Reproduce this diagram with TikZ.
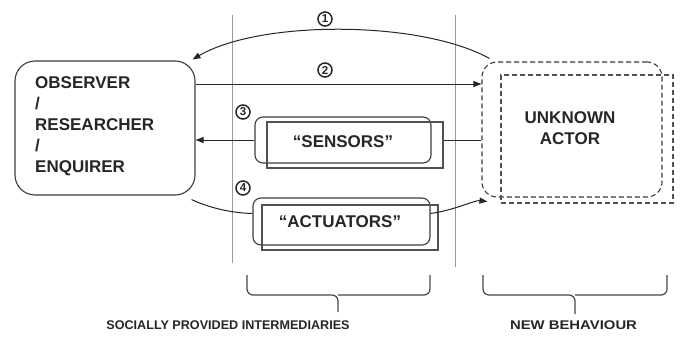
\documentclass[tikz,border=0pt]{standalone}
\usepackage{fontspec}
\setmainfont{Liberation Sans}
\usetikzlibrary{arrows.meta}
\definecolor{ink}{HTML}{262626}
\definecolor{rule}{HTML}{9A9A9A}
\tikzset{
  boxline/.style={draw=ink!90, line width=1.1pt},
  roundbox/.style={boxline, rounded corners=8pt, inner sep=0pt},
  squarebox/.style={draw=ink!80, line width=1.1pt, inner sep=0pt},
  dashbox/.style={draw=ink!90, line width=1.1pt, dash pattern=on 5pt off 3pt, inner sep=0pt},
  label/.style={text=ink, font=\bfseries\fontsize{17}{21}\selectfont, inner sep=0pt},
  caption/.style={text=ink, font=\bfseries\fontsize{12.6}{14}\selectfont, inner sep=0pt},
  num/.style={circle, draw=ink, line width=1.5pt, minimum size=14pt, inner sep=0pt,
              text=ink, font=\bfseries\fontsize{11.5}{11.5}\selectfont},
  conn/.style={draw=ink, line width=1pt},
  arr/.style={conn, -{Triangle[length=8pt,width=6pt]}},
  divider/.style={draw=rule, line width=0.8pt},
  bracket/.style={draw=ink!85, line width=1.2pt, rounded corners=6pt}
}
\begin{document}
\begin{tikzpicture}[x=1pt,y=-1pt]
\useasboundingbox[fill=white] (0,0) rectangle (680,337);

% column dividers
\draw[divider] (232,15) -- (232,263);
\draw[divider] (455,15) -- (455,267);

% observer
\node[boxline, rounded corners=20pt, minimum width=180pt, minimum height=134pt, inner sep=0pt] (obs) at (105,128) {};
\node[label, anchor=west, align=left] (obstext) at (35,126.5) {OBSERVER\\/\\RESEARCHER\\/\\ENQUIRER};

% unknown actor
\node[dashbox, rounded corners=15pt, minimum width=180pt, minimum height=135pt] (unk) at (572,129.5) {};
\node[dashbox, draw=ink!80, minimum width=172pt, minimum height=128pt] (unksq) at (587,139) {};
\node[label, align=center] (unktext) at (570,128) {UNKNOWN\\ACTOR};

% sensors
\node[roundbox, minimum width=176pt, minimum height=46pt] (sensr) at (343,140) {};
\node[squarebox, minimum width=176pt, minimum height=46pt] (senss) at (355,145) {};
\node[label] (senstext) at (343,142) {“SENSORS”};

% actuators
\node[roundbox, minimum width=177pt, minimum height=47pt] (actr) at (341.5,221.5) {};
\node[squarebox, minimum width=176pt, minimum height=45pt] (acts) at (350,227.5) {};
\node[label] (acttext) at (340,222) {“ACTUATORS”};

% numbered channels
\node[num] (n1) at (325,19) {1};
\node[num] (n2) at (325,70) {2};
\node[num] (n3) at (243,112) {3};
\node[num] (n4) at (243,188) {4};

% connectors
\draw[arr] ([shift={(8,-3)}]unk.north west) .. controls (420,20) and (260,20) .. ([shift={(-3,-1)}]obs.north east);
\draw[arr] ([yshift=44pt]obs.east) -- ([yshift=44pt]obs.east -| unk.west);
\draw[conn] (sensr.east -| senss.east) -- (sensr.east -| unk.west);
\draw[arr] (sensr.west) -- (sensr.west -| obs.east);
\draw[conn] ([shift={(-4,4)}]obs.south east) .. controls (205,206) and (228,213) .. ([yshift=8pt]actr.west);
\draw[arr] ([yshift=8pt]actr.east) .. controls (455,210) and (475,200) .. ([shift={(6,4)}]unk.south west);

% brackets
\draw[bracket] (247,275) -- (247,295) -- (338,295) -- (338,312);
\draw[bracket] (430,275) -- (430,295) -- (338,295);
\draw[bracket] (483,275) -- (483,295) -- (575,295) -- (575,314);
\draw[bracket] (667,275) -- (667,295) -- (575,295);

\node[caption] (cap1) at (228,325) {SOCIALLY PROVIDED INTERMEDIARIES};
\node[caption] (cap2) at (573.5,325) {\scalebox{1.18}[1]{NEW BEHAVIOUR}};
\end{tikzpicture}
\end{document}
